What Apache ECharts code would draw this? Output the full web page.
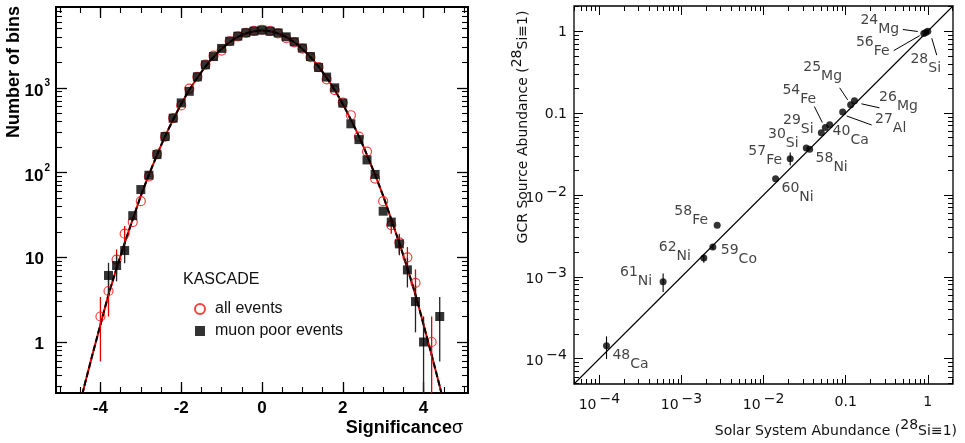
<!DOCTYPE html>
<html><head><meta charset="utf-8">
<script src="https://cdn.jsdelivr.net/npm/echarts@6/dist/echarts.min.js"></script>
<style>html,body{margin:0;padding:0;background:#fff}#c{width:965px;height:443px}</style>
</head><body><div id="c"></div>
<script>
// ---------- Left panel: KASCADE significance distribution ----------
const sigAllX = [-4.0,-3.8,-3.6,-3.4,-3.2,-3.0,-2.8,-2.6,-2.4,-2.2,-2.0,-1.8,-1.6,-1.4,-1.2,-1.0,-0.8,-0.6,-0.4,-0.2,0.0,0.2,0.4,0.6,0.8,1.0,1.2,1.4,1.6,1.8,2.0,2.2,2.4,2.6,2.8,3.0,3.2,3.4,3.6,3.8,4.2];
const allEvents = [2,4,9.4,19,26,46,90,165,265,440,620,980,1350,1880,2400,2750,3550,4050,4450,4700,4850,4700,4400,3850,3450,2900,2300,1760,1260,940,670,475,265,177,85,46,24,15,10,5,1];
const sigMuonX = [-3.8,-3.6,-3.4,-3.2,-3.0,-2.8,-2.6,-2.4,-2.2,-2.0,-1.8,-1.6,-1.4,-1.2,-1.0,-0.8,-0.6,-0.4,-0.2,0.0,0.2,0.4,0.6,0.8,1.0,1.2,1.4,1.6,1.8,2.0,2.2,2.4,2.6,2.8,3.0,3.2,3.4,3.6,3.8,4.0,4.4];
const muonPoor = [6.1,8,12,31,63,93,163,266,438,664,910,1350,1870,2340,2920,3550,4070,4470,4670,4800,4650,4450,4000,3500,2950,2340,1740,1340,1000,660,376,245,141,95,35,26,14.4,7.1,3.0,1,2];
// error bars [x, low, high]
const allErr = [[-4.0,0.59,3.4],[-3.8,2.0,6.0],[-3.6,6.4,12.4],[-3.4,14.6,23.4],[3.2,19,29],[3.4,11.1,18.9],[3.6,6.8,13.2],[3.8,2.8,7.2],[4.2,0.01,2.0]];
const muonErr = [[-3.8,3.6,8.6],[-3.6,5.2,10.8],[-3.4,8.5,15.5],[3.4,10.6,18.2],[3.6,4.4,9.8],[3.8,1.3,4.7],[4.0,0.01,2.0],[4.4,0.59,3.4]];
// fitted curve
const fitX = [-4.5,-4.4,-4.2,-4.0,-3.8,-3.6,-3.4,-3.2,-3.0,-2.8,-2.6,-2.4,-2.2,-2.0,-1.8,-1.6,-1.4,-1.2,-1.0,-0.8,-0.6,-0.4,-0.2,0.0,0.2,0.4,0.6,0.8,1.0,1.2,1.4,1.6,1.8,2.0,2.2,2.4,2.6,2.8,3.0,3.2,3.4,3.6,3.8,4.0,4.2,4.4,4.5];
const fitN = [0.19,0.30,0.70,1.6,3.6,7.4,14.7,28,53,94,161,267,421,643,943,1316,1784,2305,2881,3457,3983,4378,4656,4750,4656,4378,3983,3457,2881,2305,1784,1316,943,643,421,267,161,94,53,28,14.7,7.4,3.6,1.6,0.70,0.30,0.19];
const sigTickLabels = [-4,-2,0,2,4];
const sigMinorTicks = [-5,-4.5,-4,-3.5,-3,-2.5,-2,-1.5,-1,-0.5,0,0.5,1,1.5,2,2.5,3,3.5,4,4.5,5];
const binsTickLabels = [1,10,100,1000];

// ---------- Right panel: GCR source vs solar system abundance ----------
const isoMass = ['48','61','62','59','58','60','57','30','58','29','54','40','27','25','26','24','56','28'];
const isoElem = ['Ca','Ni','Ni','Co','Fe','Ni','Fe','Si','Ni','Si','Fe','Ca','Al','Mg','Mg','Mg','Fe','Si'];
const solarAbund = [1.22e-4,5.97e-4,1.87e-3,2.41e-3,2.72e-3,0.0140,0.0211,0.0331,0.0364,0.0505,0.0565,0.0638,0.0919,0.115,0.128,0.894,0.945,1.0];
const gcrAbund   = [1.44e-4,8.7e-4,1.69e-3,2.31e-3,4.27e-3,0.0158,0.0277,0.0373,0.0360,0.0574,0.0666,0.0718,0.103,0.126,0.141,0.937,0.960,1.0];
const gcrErrLow  = [9.9e-5,6.5e-4,1.48e-3,2.15e-3,null,null,0.0228,null,null,null,null,null,null,null,null,null,null,null];
const gcrErrHigh = [1.87e-4,1.1e-3,1.88e-3,2.5e-3,null,null,0.033,null,null,null,null,null,null,null,null,null,null,null];
const abundTickLabels = [1e-4,1e-3,1e-2,0.1,1];
const diagonal = [[4.9e-5,4.9e-5],[2.03,2.03]];

// ---------- layout (pixel offsets, styles) ----------
const labelOffset = [[24,14],[-27,-5],[-29,-6],[26,8],[-26,-9],[22,14],[-25,-3],[-23,-9],[22,13],[-23,-8],[-26,-33],[21,11],[48,12],[-28,-33],[44,1],[-44,-9],[-53,14],[-2,33]];
const leaderOffset = {15:[-21,-4,-6,-2],16:[-32,18,-6,3],17:[4,7,9,24],13:[-11,-17,-3,-5],10:[-11,-21,-3,-5],14:[7,3,25,7],12:[4,4,29,13]};

function decadeMinors(d0, d1) {
  const out = [];
  for (let d = d0; d <= d1; d++) for (let k = 2; k <= 9; k++) out.push(+(k * Math.pow(10, d)).toPrecision(6));
  return out;
}
const binsMinorTicks = decadeMinors(-1, 3);
const abundMinorTicks = decadeMinors(-5, 0);

const FL = 'Liberation Sans, Arial, Helvetica, sans-serif';
const FR = 'DejaVu Sans, sans-serif';

function tickAxis(extra) {
  return Object.assign({
    axisLine: {show: false, onZero: false}, splitLine: {show: false},
    axisLabel: {show: false}
  }, extra);
}

const chart = echarts.init(document.getElementById('c'), null, {renderer: 'canvas'});

function errSeries(data, color, xi, yi, width) {
  return {
    type: 'custom', xAxisIndex: xi, yAxisIndex: yi, data: data, silent: true, z: 3,
    encode: {x: 0, y: [1, 2]},
    renderItem: function (params, api) {
      const x = api.value(0);
      const p1 = api.coord([x, api.value(1)]);
      const p2 = api.coord([x, api.value(2)]);
      const cs = params.coordSys;
      return {
        type: 'line',
        shape: {x1: p1[0], y1: p1[1], x2: p2[0], y2: p2[1]},
        style: {stroke: color, lineWidth: width},
        clipPath: {type: 'rect', shape: {x: cs.x, y: cs.y, width: cs.width, height: cs.height}}
      };
    }
  };
}

const leaderIdx = Object.keys(leaderOffset).map(Number);
const rightErrData = [];
for (let i = 0; i < solarAbund.length; i++) {
  if (gcrErrLow[i] != null) rightErrData.push([solarAbund[i], gcrErrLow[i], gcrErrHigh[i]]);
}

const option = {
  animation: false,
  backgroundColor: '#fff',
  title: {
    text: 'KASCADE', left: 178, top: 267,
    textStyle: {fontFamily: FL, fontSize: 16, fontWeight: 'normal', color: '#111'}
  },
  legend: {
    orient: 'vertical', left: 189, top: 296, itemWidth: 10, itemHeight: 10, itemGap: 6,
    selectedMode: false,
    textStyle: {fontFamily: FL, fontSize: 16, color: '#111', padding: [0, 0, 0, 5]},
    data: [{name: 'all events', icon: 'circle'}, {name: 'muon poor events', icon: 'rect'}]
  },
  grid: [
    {left: 56, top: 7, width: 412, height: 386, show: true, borderColor: '#000', borderWidth: 2, backgroundColor: 'rgba(0,0,0,0)'},
    {left: 574, top: 6, width: 379, height: 378, show: true, borderColor: '#000', borderWidth: 1.3, backgroundColor: 'rgba(0,0,0,0)'}
  ],
  xAxis: [
    // left panel
    {type: 'value', gridIndex: 0, min: -5.1, max: 5.1, position: 'bottom',
     axisLine: {show: false, onZero: false}, splitLine: {show: false},
     axisTick: {inside: true, length: 11, customValues: sigTickLabels, lineStyle: {color: '#000', width: 1.3}},
     axisLabel: {customValues: sigTickLabels, margin: 7, fontFamily: FL, fontSize: 17, fontWeight: 'bold', color: '#000',
       formatter: v => String(v)}},
    tickAxis({type: 'value', gridIndex: 0, min: -5.1, max: 5.1, position: 'bottom',
     axisTick: {inside: true, length: 6, customValues: sigMinorTicks, lineStyle: {color: '#000', width: 1.1}}}),
    tickAxis({type: 'value', gridIndex: 0, min: -5.1, max: 5.1, position: 'top',
     axisTick: {inside: true, length: 11, customValues: sigTickLabels, lineStyle: {color: '#000', width: 1.3}}}),
    tickAxis({type: 'value', gridIndex: 0, min: -5.1, max: 5.1, position: 'top',
     axisTick: {inside: true, length: 6, customValues: sigMinorTicks, lineStyle: {color: '#000', width: 1.1}}}),
    // right panel
    {type: 'log', gridIndex: 1, min: 4.9e-5, max: 2.03, position: 'bottom',
     axisLine: {show: false, onZero: false}, splitLine: {show: false},
     axisTick: {inside: true, length: 9, customValues: abundTickLabels, lineStyle: {color: '#000', width: 1}},
     axisLabel: {customValues: abundTickLabels, margin: 8, fontFamily: FR, fontSize: 14, color: '#111',
       formatter: v => {
         if (Math.abs(v - 1) < 1e-9) return '{n|1}';
         if (Math.abs(v - 0.1) < 1e-9) return '{n|0.1}';
         const e = Math.round(Math.log10(v));
         return '{b|10}{s|\u2212' + (-e) + '}';
       },
       rich: {
         n: {fontFamily: FR, fontSize: 14, color: '#111', padding: [3, 0, 0, 0]},
         b: {fontFamily: FR, fontSize: 14, color: '#111', padding: [6, 0, 0, 0]},
         s: {fontFamily: FR, fontSize: 14, color: '#111', padding: [0, 0, 6, 3]}
       }}},
    tickAxis({type: 'log', gridIndex: 1, min: 4.9e-5, max: 2.03, position: 'bottom',
     axisTick: {inside: true, length: 5, customValues: abundMinorTicks, lineStyle: {color: '#000', width: 1}}}),
    tickAxis({type: 'log', gridIndex: 1, min: 4.9e-5, max: 2.03, position: 'top',
     axisTick: {inside: true, length: 9, customValues: abundTickLabels, lineStyle: {color: '#000', width: 1}}}),
    tickAxis({type: 'log', gridIndex: 1, min: 4.9e-5, max: 2.03, position: 'top',
     axisTick: {inside: true, length: 5, customValues: abundMinorTicks, lineStyle: {color: '#000', width: 1}}})
  ],
  yAxis: [
    {type: 'log', gridIndex: 0, min: 0.25, max: 9000, position: 'left',
     axisLine: {show: false, onZero: false}, splitLine: {show: false},
     axisTick: {inside: true, length: 11, customValues: binsTickLabels, lineStyle: {color: '#000', width: 1.3}},
     axisLabel: {customValues: binsTickLabels, margin: 6,
       formatter: v => {
         if (v < 5) return '{n|1}';
         if (v < 50) return '{n|10}';
         return '{b|10}{s|' + Math.round(Math.log10(v)) + '}';
       },
       rich: {
         n: {fontFamily: FL, fontSize: 17, fontWeight: 'bold', color: '#000', padding: [4, 6, 0, 0]},
         b: {fontFamily: FL, fontSize: 17, fontWeight: 'bold', color: '#000', padding: [7, 0, 0, 0]},
         s: {fontFamily: FL, fontSize: 10, fontWeight: 'bold', color: '#000', padding: [0, 0, 9, 1]}
       }}},
    tickAxis({type: 'log', gridIndex: 0, min: 0.25, max: 9000, position: 'left',
     axisTick: {inside: true, length: 6, customValues: binsMinorTicks, lineStyle: {color: '#000', width: 1.1}}}),
    tickAxis({type: 'log', gridIndex: 0, min: 0.25, max: 9000, position: 'right',
     axisTick: {inside: true, length: 11, customValues: binsTickLabels, lineStyle: {color: '#000', width: 1.3}}}),
    tickAxis({type: 'log', gridIndex: 0, min: 0.25, max: 9000, position: 'right',
     axisTick: {inside: true, length: 6, customValues: binsMinorTicks, lineStyle: {color: '#000', width: 1.1}}}),
    {type: 'log', gridIndex: 1, min: 4.9e-5, max: 2.03, position: 'left',
     axisLine: {show: false, onZero: false}, splitLine: {show: false},
     axisTick: {inside: true, length: 9, customValues: abundTickLabels, lineStyle: {color: '#000', width: 1}},
     axisLabel: {customValues: abundTickLabels, margin: 7,
       formatter: v => {
         if (Math.abs(v - 1) < 1e-9) return '{n|1}';
         if (Math.abs(v - 0.1) < 1e-9) return '{n|0.1}';
         const e = Math.round(Math.log10(v));
         return '{b|10}{s|\u2212' + (-e) + '}';
       },
       rich: {
         n: {fontFamily: FR, fontSize: 14, color: '#111', padding: [3, 0, 0, 0]},
         b: {fontFamily: FR, fontSize: 14, color: '#111', padding: [6, 0, 0, 0]},
         s: {fontFamily: FR, fontSize: 14, color: '#111', padding: [0, 0, 6, 3]}
       }}},
    tickAxis({type: 'log', gridIndex: 1, min: 4.9e-5, max: 2.03, position: 'left',
     axisTick: {inside: true, length: 5, customValues: abundMinorTicks, lineStyle: {color: '#000', width: 1}}}),
    tickAxis({type: 'log', gridIndex: 1, min: 4.9e-5, max: 2.03, position: 'right',
     axisTick: {inside: true, length: 9, customValues: abundTickLabels, lineStyle: {color: '#000', width: 1}}}),
    tickAxis({type: 'log', gridIndex: 1, min: 4.9e-5, max: 2.03, position: 'right',
     axisTick: {inside: true, length: 5, customValues: abundMinorTicks, lineStyle: {color: '#000', width: 1}}})
  ],
  graphic: [
    {type: 'text', x: 14, y: 72, rotation: Math.PI / 2,
     style: {text: 'Number of bins', fontFamily: FL, fontSize: 18, fontWeight: 'bold', fill: '#000', align: 'center', verticalAlign: 'middle'}},
    {type: 'text', x: 463, y: 428,
     style: {text: 'Significance{g|\u03c3}', fontFamily: FL, fontSize: 18, fontWeight: 'bold', fill: '#000', align: 'right', verticalAlign: 'middle',
       rich: {g: {fontFamily: FL, fontSize: 18, fontWeight: 'normal', fill: '#000'}}}},
    {type: 'text', x: 520, y: 127, rotation: Math.PI / 2,
     style: {text: '{t|GCR Source Abundance (}{s|28}{t|Si\u22611)}', align: 'center', verticalAlign: 'middle',
       rich: {t: {fontFamily: FR, fontSize: 14, fill: '#111', padding: [6, 0, 0, 0]},
              s: {fontFamily: FR, fontSize: 14, fill: '#111', padding: [0, 0, 6, 0]}}}},
    {type: 'text', x: 957, y: 428,
     style: {text: '{t|Solar System Abundance (}{s|28}{t|Si\u22611)}', align: 'right', verticalAlign: 'middle',
       rich: {t: {fontFamily: FR, fontSize: 14, fill: '#111', padding: [6, 0, 0, 0]},
              s: {fontFamily: FR, fontSize: 14, fill: '#111', padding: [0, 0, 6, 0]}}}}
  ],
  series: [
    // fit curve: red underlay + black dashed
    {type: 'line', xAxisIndex: 0, yAxisIndex: 0, data: fitX.map((x, i) => [x, fitN[i]]),
     smooth: 0.3, showSymbol: false, clip: true, silent: true, z: 2,
     lineStyle: {color: '#e00000', width: 2}},
    {type: 'line', xAxisIndex: 0, yAxisIndex: 0, data: fitX.map((x, i) => [x, fitN[i]]),
     smooth: 0.3, showSymbol: false, clip: true, silent: true, z: 2,
     lineStyle: {color: '#000', width: 2, type: [6, 3]}},
    errSeries(allErr, '#e00000', 0, 0, 1.3),
    errSeries(muonErr, '#222', 0, 0, 1.3),
    {name: 'all events', type: 'scatter', xAxisIndex: 0, yAxisIndex: 0, z: 4,
     data: sigAllX.map((x, i) => [x, allEvents[i]]),
     symbol: 'circle', symbolSize: 9,
     itemStyle: {color: 'rgba(255,255,255,0)', borderColor: '#ee1111', borderWidth: 1.2}},
    {name: 'muon poor events', type: 'scatter', xAxisIndex: 0, yAxisIndex: 0, z: 5,
     data: sigMuonX.map((x, i) => [x, muonPoor[i]]),
     symbol: 'rect', symbolSize: 9, itemStyle: {color: '#000'}},
    // right panel
    {type: 'line', xAxisIndex: 4, yAxisIndex: 4, data: diagonal, showSymbol: false, silent: true, z: 2,
     lineStyle: {color: '#000', width: 1.1}},
    errSeries(rightErrData, '#000', 4, 4, 1.1),
    {type: 'custom', xAxisIndex: 4, yAxisIndex: 4, silent: true, z: 3,
     data: leaderIdx.map(i => [solarAbund[i], gcrAbund[i], i]),
     encode: {x: 0, y: 1},
     renderItem: function (params, api) {
       const p = api.coord([api.value(0), api.value(1)]);
       const L = leaderOffset[api.value(2)];
       return {type: 'line', shape: {x1: p[0] + L[0], y1: p[1] + L[1], x2: p[0] + L[2], y2: p[1] + L[3]},
               style: {stroke: '#000', lineWidth: 1}};
     }},
    {type: 'scatter', xAxisIndex: 4, yAxisIndex: 4, z: 4, symbol: 'circle', symbolSize: 7,
     itemStyle: {color: '#000'},
     data: solarAbund.map((x, i) => ({value: [x, gcrAbund[i]], label: {offset: labelOffset[i]}})),
     label: {show: true, position: 'inside', align: 'center', verticalAlign: 'middle',
       formatter: p => '{m|' + isoMass[p.dataIndex] + '}{e|' + isoElem[p.dataIndex] + '}',
       rich: {m: {fontFamily: FR, fontSize: 14, color: '#111', padding: [0, 0, 9, 0]},
              e: {fontFamily: FR, fontSize: 14, color: '#111', padding: [9, 0, 0, 0]}}}}
  ]
};
chart.setOption(option);
</script>
</body></html>
